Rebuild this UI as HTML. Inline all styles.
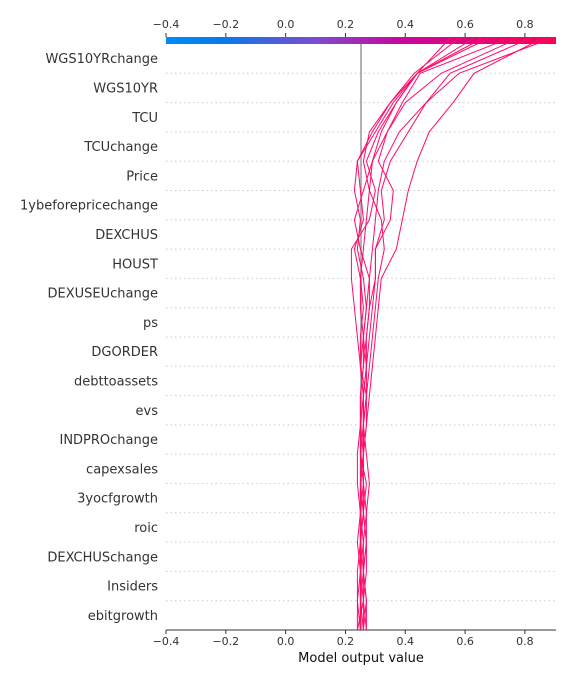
<!DOCTYPE html>
<html><head><meta charset="utf-8"><style>
html,body{margin:0;padding:0;background:#fff;}
svg{display:block;font-family:"DejaVu Sans","Liberation Sans",sans-serif;}
</style></head><body>
<svg id="chart" width="576" height="684" viewBox="0 0 576 684" xmlns="http://www.w3.org/2000/svg">
<defs><linearGradient id="cg" x1="0" x2="1" y1="0" y2="0">
<stop offset="0" stop-color="#008bfb"/><stop offset="0.15" stop-color="#0a78eb"/><stop offset="0.38" stop-color="#7a4dd0"/><stop offset="0.6" stop-color="#c9069c"/><stop offset="1" stop-color="#ff0052"/></linearGradient></defs>
<g id="grid"></g>
<rect x="166" y="37" width="390" height="7" fill="url(#cg)"/>
<g id="axes"></g>
<g id="lines"></g>
</svg>
<script>
const features=["WGS10YRchange","WGS10YR","TCU","TCUchange","Price","1ybeforepricechange","DEXCHUS","HOUST","DEXUSEUchange","ps","DGORDER","debttoassets","evs","INDPROchange","capexsales","3yocfgrowth","roic","DEXCHUSchange","Insiders","ebitgrowth"];
const ticks=[-0.4,-0.2,0.0,0.2,0.4,0.6,0.8];
const baseValue=0.252;
// each series: cumulative output at boundaries, top (final) first -> bottom
const s1=[0.86,0.63,0.56,0.48,0.44,0.41,0.39,0.37,0.32,0.31,0.30,0.29,0.28,0.27,0.26,0.26,0.25,0.25,0.25,0.25,0.25];
const s2=[0.89,0.58,0.47,0.41,0.35,0.32,0.33,0.30,0.30,0.29,0.28,0.27,0.27,0.26,0.26,0.25,0.26,0.25,0.24,0.24,0.24];
const s3=[0.82,0.55,0.47,0.38,0.33,0.31,0.30,0.29,0.28,0.28,0.27,0.27,0.26,0.26,0.25,0.25,0.25,0.26,0.25,0.26,0.26];
const s4=[0.78,0.52,0.40,0.34,0.29,0.28,0.27,0.26,0.25,0.26,0.25,0.25,0.26,0.25,0.24,0.24,0.25,0.25,0.25,0.24,0.25];
const s5=[0.75,0.45,0.39,0.34,0.31,0.36,0.35,0.30,0.30,0.28,0.27,0.26,0.25,0.25,0.26,0.25,0.25,0.24,0.25,0.25,0.26];
const s6=[0.68,0.44,0.36,0.30,0.24,0.25,0.26,0.23,0.25,0.25,0.26,0.27,0.26,0.26,0.27,0.28,0.27,0.27,0.26,0.27,0.27];
const s7=[0.66,0.44,0.37,0.31,0.27,0.30,0.28,0.22,0.22,0.23,0.24,0.25,0.26,0.26,0.25,0.26,0.26,0.27,0.27,0.26,0.27];
const s8=[0.63,0.44,0.35,0.28,0.26,0.28,0.32,0.33,0.31,0.30,0.29,0.28,0.27,0.27,0.26,0.25,0.26,0.25,0.26,0.25,0.25];
const s9=[0.58,0.43,0.35,0.29,0.24,0.23,0.25,0.24,0.26,0.27,0.26,0.26,0.25,0.25,0.25,0.27,0.26,0.27,0.26,0.27,0.26];
const s10=[0.55,0.44,0.37,0.32,0.29,0.26,0.23,0.25,0.28,0.27,0.26,0.25,0.27,0.26,0.26,0.26,0.27,0.26,0.26,0.26,0.24];
const series=[s1,s2,s3,s4,s5,s6,s7,s8,s9,s10];

const NS="http://www.w3.org/2000/svg";
const X0=166,X1=556,VMIN=-0.4,VMAX=0.904;
const YT=44,YB=630;
const xs=v=>X0+(v-VMIN)/(VMAX-VMIN)*(X1-X0);
const n=features.length;
const yb=k=>YT+(YB-YT)*k/n; // boundary k (0=top)
function mk(tag,attrs,parent){const e=document.createElementNS(NS,tag);for(const k in attrs)e.setAttribute(k,attrs[k]);parent.appendChild(e);return e;}
const grid=document.getElementById('grid'),axes=document.getElementById('axes'),lines=document.getElementById('lines');
features.forEach((f,i)=>{
  const yc=(yb(i)+yb(i+1))/2;
  if(i<n-1){const g=mk('line',{x1:166,x2:556,y1:yb(i+1),y2:yb(i+1),stroke:'#ccc','stroke-dasharray':'1.5,3','stroke-width':1},grid);
  
  }
  const t=mk('text',{x:158,y:yc+4.5,'text-anchor':'end','font-size':13,fill:'#333'},axes);
  t.textContent=f;
  
  
});
const bl=mk('line',{x1:xs(baseValue),x2:xs(baseValue),y1:YT,y2:YB,stroke:'#999','stroke-width':1.5},axes);


const ax=mk('line',{x1:X0,x2:X1,y1:YB,y2:YB,stroke:'#333','stroke-width':1},axes);


ticks.forEach(v=>{
  const lab=(v<0?'\u2212':'')+Math.abs(v).toFixed(1);
  mk('line',{x1:xs(v),x2:xs(v),y1:YB,y2:YB+4,stroke:'#333'},axes);
  const t=mk('text',{x:xs(v),y:YB+15,'text-anchor':'middle','font-size':11,fill:'#333'},axes);
  t.textContent=lab;
  
  
  mk('line',{x1:xs(v),x2:xs(v),y1:33,y2:37,stroke:'#333'},axes);
  const t2=mk('text',{x:xs(v),y:28,'text-anchor':'middle','font-size':11,fill:'#333'},axes);
  t2.textContent=lab;
  
  
});
const tt=mk('text',{x:361,y:662,'text-anchor':'middle','font-size':13,fill:'#111'},axes);
tt.textContent='Model output value';


series.forEach((s,j)=>{
  const pts=s.map((v,k)=>xs(v).toFixed(1)+','+(k===0?38:yb(k)).toFixed(1)).join(' ');
  const p=mk('polyline',{points:pts,fill:'none',stroke:'#ff0a6a','stroke-width':1},lines);
  
  
});
</script>
</body></html>
